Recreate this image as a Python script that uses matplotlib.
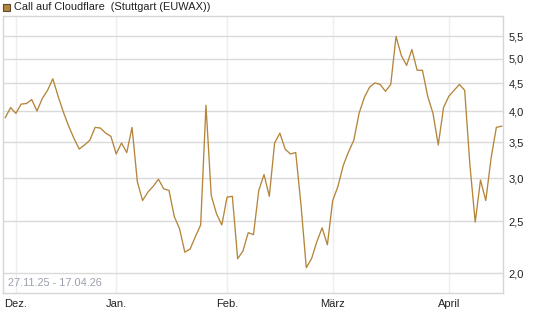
import matplotlib
matplotlib.use("Agg")
import matplotlib.pyplot as plt
from matplotlib.patches import Rectangle
import numpy as np
import pandas as pd

# Handelstage Stuttgart (ohne Feiertage)
holidays = ["2025-12-24", "2025-12-25", "2025-12-26", "2025-12-31",
            "2026-01-01", "2026-04-03", "2026-04-06"]
dates = pd.bdate_range("2025-11-27", "2026-04-17")
dates = dates[~dates.isin(pd.to_datetime(holidays))]

prices = [3.89, 4.06, 3.96, 4.12, 4.13, 4.20, 4.00, 4.22, 4.37, 4.59,
          4.26, 3.98, 3.75, 3.56, 3.40, 3.46, 3.53, 3.73, 3.72, 3.64,
          3.59, 3.33, 3.49, 3.35, 3.73, 2.96, 2.73, 2.83, 2.90, 2.99,
          2.87, 2.85, 2.55, 2.42, 2.19, 2.22, 2.34, 2.46, 4.10, 2.79,
          2.58, 2.46, 2.77, 2.78, 2.13, 2.20, 2.38, 2.36, 2.85, 3.05,
          2.78, 3.49, 3.64, 3.40, 3.33, 3.35, 2.68, 2.05, 2.13, 2.29,
          2.43, 2.26, 2.73, 2.90, 3.17, 3.36, 3.53, 3.96, 4.24, 4.43,
          4.51, 4.48, 4.35, 4.48, 5.50, 5.07, 4.86, 5.20, 4.76, 4.76,
          4.26, 3.96, 3.46, 4.06, 4.26, 4.37, 4.48, 4.37, 3.17, 2.49,
          2.98, 2.73, 3.27, 3.73, 3.75]

y_ticks = [2.0, 2.5, 3.0, 3.5, 4.0, 4.5, 5.0, 5.5]
month_names = {12: "Dez.", 1: "Jan.", 2: "Feb.", 3: "März", 4: "April"}

line_col = "#b5853b"
font = "Liberation Sans"

x = np.arange(len(dates))
month_pos, month_lab = [], []
for i in range(1, len(dates)):
    if dates[i].month != dates[i - 1].month:
        month_pos.append(i)
        month_lab.append(month_names[dates[i].month])

fig = plt.figure(figsize=(5.45, 3.27), dpi=100)
ax = fig.add_axes([3/545, 34/327, 500/545, 277/327])

ax.plot(x, prices, color=line_col, lw=0.95, zorder=3)
ax.set_yscale("log")
ax.set_ylim(1.84, 6.0)
ax.set_xlim(-0.44, 94.26)

ax.yaxis.tick_right()
ax.set_yticks(y_ticks)
ax.set_yticklabels([f"{v:.1f}".replace(".", ",") for v in y_ticks],
                   fontsize=8, family=font, color="#222222")
ax.yaxis.set_minor_locator(matplotlib.ticker.NullLocator())
ax.set_xticks(month_pos)
ax.set_xticklabels(month_lab, fontsize=8, family=font, color="#222222")
ax.tick_params(length=0, pad=4)

for v in y_ticks:
    ax.axhline(v, color="#dadada", lw=1, zorder=1)
for p in month_pos:
    ax.axvline(p, color="#eeeeee", lw=1, zorder=0)
for s in ax.spines.values():
    s.set_color("#d6d6d6")
    s.set_linewidth(1)

ax.text(0.01, 0.018, "27.11.25 - 17.04.26", transform=ax.transAxes,
        fontsize=7.9, family=font, color="#9aa0ae", va="bottom", ha="left")

# Legende oben links
fig.patches.append(Rectangle((3/545, 1 - 11/327), 7/545, 7/327,
                             transform=fig.transFigure, facecolor=line_col,
                             edgecolor="#5a4a30", lw=0.8))
fig.text(14/545, 1 - 7/327, "Call auf Cloudflare  (Stuttgart (EUWAX))",
         fontsize=7.9, family=font, color="#222222", va="center", ha="left")

fig.savefig("out.png", dpi=100)
